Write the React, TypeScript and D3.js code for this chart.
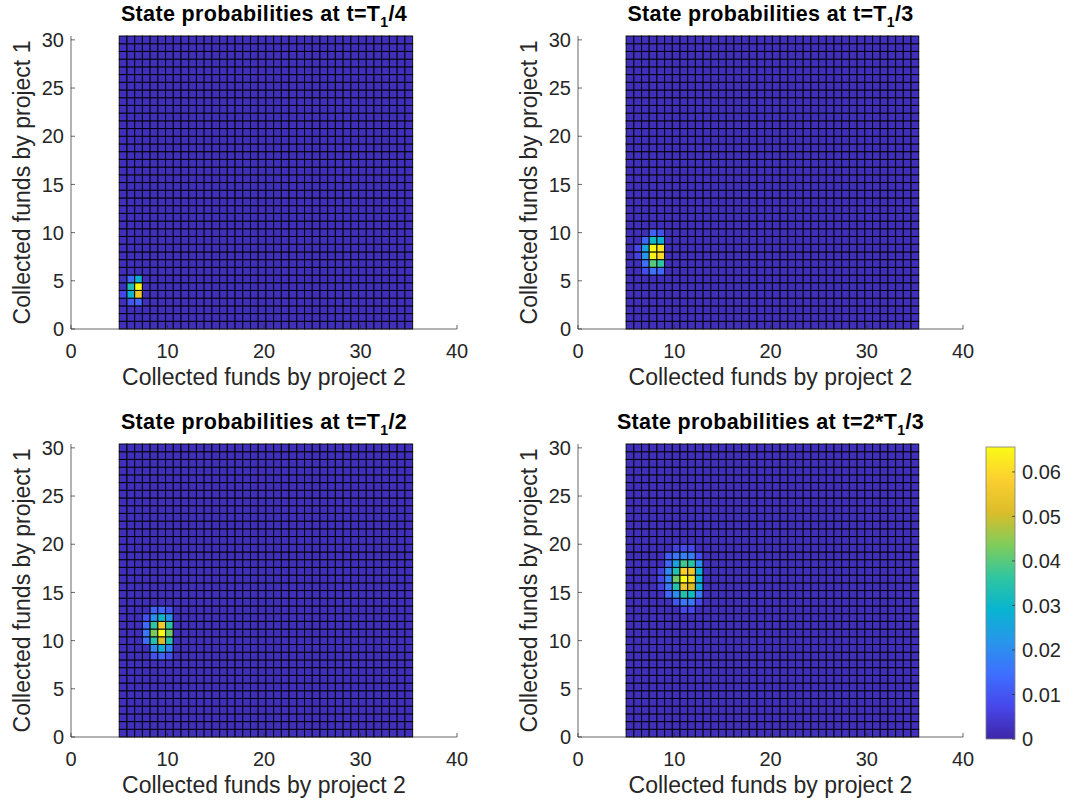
import React, { useMemo } from "react";
import * as d3 from "d3";

// ---------- data ----------
const xTicks = [0, 10, 20, 30, 40];
const yTicks = [0, 5, 10, 15, 20, 25, 30];
const cbTicks = [0, 0.01, 0.02, 0.03, 0.04, 0.05, 0.06];
const titlePrefixes = [
  "State probabilities at t=T",
  "State probabilities at t=T",
  "State probabilities at t=T",
  "State probabilities at t=2*T",
];
const titleSubscript = "1";
const titleSuffixes = ["/4", "/3", "/2", "/3"];
const xLabel = "Collected funds by project 2";
const yLabel = "Collected funds by project 1";

const gridX0 = 5;
const gridY0 = 0;
const gridStep = 0.8;
const gridCols = 38;
const gridRows = 38;
const backgroundP = 0.002;
const pMax = 0.0656;

const parulaStops = [
  "#3e26a8", "#4747eb", "#3e6fff", "#2796eb", "#08b5d0",
  "#31c69f", "#81cc59", "#dcbd29", "#fccf30", "#f9fb15",
];

// [funds project 2 (cell left), funds project 1 (cell bottom), probability]
const hotQuarter: [number, number, number][] = [
  [5.8, 4.8, 0.013], [6.6, 4.8, 0.028],
  [5.8, 4.0, 0.033], [6.6, 4.0, 0.0656],
  [5.0, 3.2, 0.007], [5.8, 3.2, 0.028], [6.6, 3.2, 0.055],
  [5.8, 2.4, 0.010], [6.6, 2.4, 0.013],
];
const hotThird: [number, number, number][] = [
  [7.4, 9.6, 0.012], [8.2, 9.6, 0.009],
  [6.6, 8.8, 0.013], [7.4, 8.8, 0.031], [8.2, 8.8, 0.028],
  [5.8, 8.0, 0.007], [6.6, 8.0, 0.025], [7.4, 8.0, 0.0656], [8.2, 8.0, 0.062],
  [5.8, 7.2, 0.006], [6.6, 7.2, 0.022], [7.4, 7.2, 0.064], [8.2, 7.2, 0.060],
  [6.6, 6.4, 0.015], [7.4, 6.4, 0.040], [8.2, 6.4, 0.036],
  [6.6, 5.6, 0.008], [7.4, 5.6, 0.015], [8.2, 5.6, 0.013],
];
const hotHalf: [number, number, number][] = [
  [8.2, 12.8, 0.012], [9.0, 12.8, 0.013], [9.8, 12.8, 0.009],
  [7.4, 12.0, 0.009], [8.2, 12.0, 0.020], [9.0, 12.0, 0.030], [9.8, 12.0, 0.021],
  [7.4, 11.2, 0.014], [8.2, 11.2, 0.036], [9.0, 11.2, 0.056], [9.8, 11.2, 0.036],
  [7.4, 10.4, 0.016], [8.2, 10.4, 0.043], [9.0, 10.4, 0.0656], [9.8, 10.4, 0.042],
  [7.4, 9.6, 0.014], [8.2, 9.6, 0.034], [9.0, 9.6, 0.051], [9.8, 9.6, 0.034],
  [8.2, 8.8, 0.019], [9.0, 8.8, 0.027], [9.8, 8.8, 0.018],
  [8.2, 8.0, 0.009], [9.0, 8.0, 0.012], [9.8, 8.0, 0.009],
];
const hotTwoThirds: [number, number, number][] = [
  [9.8, 19.2, 0.006], [10.6, 19.2, 0.008], [11.4, 19.2, 0.007],
  [9.0, 18.4, 0.011], [9.8, 18.4, 0.016], [10.6, 18.4, 0.018], [11.4, 18.4, 0.017], [12.2, 18.4, 0.008],
  [9.0, 17.6, 0.013], [9.8, 17.6, 0.025], [10.6, 17.6, 0.038], [11.4, 17.6, 0.035], [12.2, 17.6, 0.020],
  [8.2, 16.8, 0.006], [9.0, 16.8, 0.019], [9.8, 16.8, 0.034], [10.6, 16.8, 0.058], [11.4, 16.8, 0.055], [12.2, 16.8, 0.028],
  [8.2, 16.0, 0.007], [9.0, 16.0, 0.018], [9.8, 16.0, 0.042], [10.6, 16.0, 0.0656], [11.4, 16.0, 0.061], [12.2, 16.0, 0.028],
  [8.2, 15.2, 0.006], [9.0, 15.2, 0.016], [9.8, 15.2, 0.034], [10.6, 15.2, 0.055], [11.4, 15.2, 0.051], [12.2, 15.2, 0.027],
  [9.0, 14.4, 0.013], [9.8, 14.4, 0.020], [10.6, 14.4, 0.034], [11.4, 14.4, 0.031], [12.2, 14.4, 0.016],
  [9.8, 13.6, 0.010], [10.6, 13.6, 0.016], [11.4, 13.6, 0.016], [12.2, 13.6, 0.007],
  [10.6, 12.8, 0.007], [11.4, 12.8, 0.007],
];
const panelData = [hotQuarter, hotThird, hotHalf, hotTwoThirds];

// ---------- layout ----------
const W = 1078;
const H = 805;
const FONT = "'Liberation Sans', Arial, Helvetica, sans-serif";
const TXT = "#262626";
const panels = [
  { left: 71, right: 457, top: 36, bottom: 329 },
  { left: 578, right: 963, top: 36, bottom: 329 },
  { left: 71, right: 457, top: 444, bottom: 737 },
  { left: 578, right: 963, top: 444, bottom: 737 },
];
const cb = { left: 986, right: 1015, top: 447, bottom: 739 };

const color = d3
  .scaleLinear<string>()
  .domain(parulaStops.map((_, i) => (i / (parulaStops.length - 1)) * pMax))
  .range(parulaStops)
  .interpolate(d3.interpolateRgb)
  .clamp(true);

function Panel({ idx }: { idx: number }) {
  const p = panels[idx];
  const x = d3.scaleLinear().domain([0, 40]).range([p.left, p.right]);
  const y = d3
    .scaleLinear()
    .domain([0, gridY0 + gridRows * gridStep])
    .range([p.bottom, p.top]);

  const cells = useMemo(() => {
    const lookup = new Map<string, number>();
    panelData[idx].forEach(([fx, fy, v]) => {
      const i = Math.round((fx - gridX0) / gridStep);
      const j = Math.round((fy - gridY0) / gridStep);
      lookup.set(i + "_" + j, v);
    });
    const out: { i: number; j: number; v: number }[] = [];
    for (let i = 0; i < gridCols; i++)
      for (let j = 0; j < gridRows; j++)
        out.push({ i, j, v: lookup.get(i + "_" + j) ?? backgroundP });
    return out;
  }, [idx]);

  const cx = (i: number) => x(gridX0 + i * gridStep);
  const cy = (j: number) => y(gridY0 + j * gridStep);
  const midX = (p.left + p.right) / 2;
  const midY = (p.top + p.bottom) / 2;

  return (
    <g>
      {cells.map((c) => (
        <rect
          key={c.i + "_" + c.j}
          x={cx(c.i)}
          y={cy(c.j + 1)}
          width={cx(c.i + 1) - cx(c.i)}
          height={cy(c.j) - cy(c.j + 1)}
          fill={color(c.v)}
          stroke="#000"
          strokeWidth={1.05}
          strokeOpacity={0.9}
        />
      ))}
      {/* axes */}
      <line x1={p.left} x2={p.right} y1={p.bottom} y2={p.bottom} stroke={TXT} strokeWidth={0.7} />
      <line x1={p.left} x2={p.left} y1={p.bottom} y2={p.top} stroke={TXT} strokeWidth={0.7} />
      {xTicks.map((t) => (
        <g key={"xt" + t}>
          <line x1={x(t)} x2={x(t)} y1={p.bottom} y2={p.bottom - 4} stroke={TXT} strokeWidth={0.7} />
          <text x={x(t)} y={p.bottom + 29} textAnchor="middle" fontSize={20} fontFamily={FONT} fill={TXT}>
            {t}
          </text>
        </g>
      ))}
      {yTicks.map((t) => (
        <g key={"yt" + t}>
          <line x1={p.left} x2={p.left + 4} y1={y(t)} y2={y(t)} stroke={TXT} strokeWidth={0.7} />
          <text x={p.left - 7} y={y(t)} dy="0.36em" textAnchor="end" fontSize={20} fontFamily={FONT} fill={TXT}>
            {t}
          </text>
        </g>
      ))}
      <text x={midX} y={p.bottom + 56} textAnchor="middle" fontSize={23} fontFamily={FONT} fill={TXT}>
        {xLabel}
      </text>
      <text
        transform={`translate(${p.left - 41},${midY}) rotate(-90)`}
        textAnchor="middle"
        fontSize={23}
        fontFamily={FONT}
        fill={TXT}
      >
        {yLabel}
      </text>
      <text
        x={midX}
        y={p.top - 15}
        textAnchor="middle"
        fontSize={21.5}
        letterSpacing={0.35}
        fontWeight="bold"
        fontFamily={FONT}
        fill="#000"
      >
        {titlePrefixes[idx]}
        <tspan fontSize={14} dy={6}>{titleSubscript}</tspan>
        <tspan dy={-6}>{titleSuffixes[idx]}</tspan>
      </text>
    </g>
  );
}

function Colorbar() {
  const s = d3.scaleLinear().domain([0, pMax]).range([cb.bottom, cb.top]);
  return (
    <g>
      <defs>
        <linearGradient id="parulaGrad" x1="0" y1="1" x2="0" y2="0">
          {parulaStops.map((c, i) => (
            <stop key={i} offset={i / (parulaStops.length - 1)} stopColor={c} />
          ))}
        </linearGradient>
      </defs>
      <rect
        x={cb.left}
        y={cb.top}
        width={cb.right - cb.left}
        height={cb.bottom - cb.top}
        fill="url(#parulaGrad)"
        stroke="#7f7f7f"
        strokeWidth={0.8}
      />
      {cbTicks.map((t) => (
        <g key={"cb" + t}>
          <line x1={cb.right} x2={cb.right - 3} y1={s(t)} y2={s(t)} stroke={TXT} strokeWidth={0.7} />
          <text x={cb.right + 7} y={s(t)} dy="0.36em" fontSize={20} fontFamily={FONT} fill={TXT}>
            {t === 0 ? "0" : d3.format(".2f")(t)}
          </text>
        </g>
      ))}
    </g>
  );
}

export default function App() {
  return (
    <svg
      width={W}
      height={H}
      viewBox={`0 0 ${W} ${H}`}
      style={{ position: "absolute", left: 0, top: 0, background: "#fff" }}
    >
      <rect x={0} y={0} width={W} height={H} fill="#fff" />
      {panels.map((_, i) => (
        <Panel key={i} idx={i} />
      ))}
      <Colorbar />
    </svg>
  );
}
